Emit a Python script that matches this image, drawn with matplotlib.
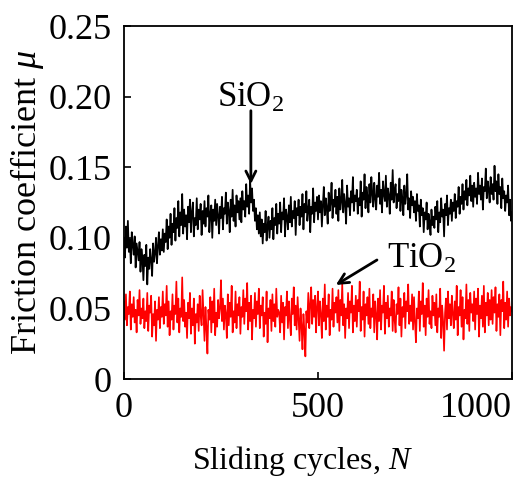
import matplotlib
matplotlib.use("Agg")
import matplotlib.pyplot as plt
import numpy as np

plt.rcParams['font.family'] = ['Liberation Serif', 'DejaVu Serif']
plt.rcParams['mathtext.fontset'] = 'custom'
plt.rcParams['mathtext.rm'] = 'Liberation Serif'
plt.rcParams['mathtext.it'] = 'Liberation Serif:italic'

# friction coefficient, in units of 0.001,
# one value every 2.5 sliding cycles from 0 to 1000
sio2_milli = [
    100, 86, 108, 93, 112, 90, 99, 82, 104, 95, 88, 101, 79, 96, 90, 84, 97, 76, 92, 85,
    70, 88, 80, 95, 67, 86, 78, 92, 84, 73, 96, 83, 89, 100, 82, 94, 104, 88, 99, 91,
    106, 90, 103, 97, 113, 92, 108, 100, 117, 95, 110, 104, 121, 98, 114, 107, 126, 101, 118, 109,
    131, 103, 120, 108, 116, 99, 122, 111, 127, 104, 118, 125, 101, 114, 109, 128, 106, 120, 113, 124,
    102, 119, 110, 126, 108, 121, 115, 130, 104, 117, 123, 100, 120, 112, 127, 109, 124, 116, 103, 122,
    114, 129, 106, 121, 117, 132, 110, 125, 119, 104, 127, 115, 134, 112, 123, 108, 130, 118, 126, 113,
    128, 111, 133, 120, 126, 115, 138, 122, 130, 117, 141, 125, 135, 119, 127, 112, 121, 106, 116, 103,
    118, 101, 113, 96, 110, 104, 119, 98, 108, 115, 100, 112, 106, 121, 99, 114, 109, 124, 103, 117,
    110, 125, 104, 118, 113, 128, 101, 120, 115, 106, 123, 111, 129, 108, 119, 114, 126, 102, 121, 116,
    127, 109, 122, 115, 131, 106, 124, 118, 133, 112, 120, 127, 104, 122, 117, 135, 111, 125, 119, 129,
    113, 130, 118, 126, 108, 123, 136, 116, 128, 121, 110, 132, 119, 125, 139, 114, 127, 122, 134, 117,
    129, 112, 135, 120, 126, 141, 118, 131, 124, 110, 137, 122, 128, 116, 133, 125, 143, 119, 130, 126,
    134, 117, 128, 123, 140, 115, 132, 127, 145, 121, 136, 129, 118, 138, 125, 143, 131, 122, 139, 128,
    120, 137, 129, 146, 124, 134, 118, 140, 131, 126, 144, 122, 135, 130, 117, 139, 127, 148, 125, 133,
    138, 121, 131, 126, 142, 119, 134, 128, 116, 137, 124, 130, 145, 120, 128, 114, 133, 123, 129, 118,
    126, 112, 131, 119, 123, 108, 127, 116, 121, 104, 118, 113, 125, 106, 117, 111, 102, 120, 109, 115,
    107, 122, 113, 126, 104, 118, 111, 128, 115, 120, 101, 124, 116, 130, 109, 121, 117, 127, 112, 125,
    119, 131, 114, 126, 122, 136, 117, 129, 124, 138, 120, 133, 127, 141, 123, 135, 130, 144, 126, 137,
    122, 139, 129, 135, 124, 146, 131, 137, 127, 142, 120, 136, 133, 149, 128, 140, 134, 125, 143, 131,
    138, 127, 151, 133, 140, 124, 145, 131, 136, 121, 142, 128, 133, 119, 130, 125, 137, 116, 127, 112,
    118,
]

tio2_milli = [
    55, 42, 60, 38, 51, 46, 62, 35, 53, 44, 58, 40, 49, 33, 56, 45, 63, 39, 50, 43,
    57, 36, 48, 41, 61, 34, 52, 47, 59, 30, 46, 38, 55, 27, 49, 42, 58, 36, 51, 44,
    62, 39, 53, 45, 66, 37, 55, 31, 48, 42, 60, 35, 52, 46, 69, 40, 57, 33, 50, 44,
    72, 41, 56, 37, 47, 29, 54, 43, 61, 32, 50, 38, 57, 25, 46, 40, 53, 34, 59, 45,
    38, 63, 44, 27, 51, 36, 18, 49, 42, 58, 33, 55, 40, 64, 31, 47, 37, 56, 43, 50,
    70, 41, 57, 35, 52, 46, 29, 60, 38, 54, 44, 66, 33, 48, 40, 62, 36, 53, 45, 58,
    32, 51, 44, 63, 39, 57, 48, 68, 35, 54, 41, 59, 28, 49, 43, 61, 37, 55, 46, 64,
    36, 52, 45, 58, 30, 47, 39, 62, 26, 50, 43, 56, 34, 60, 41, 53, 37, 64, 44, 49,
    47, 33, 59, 40, 54, 28, 51, 45, 62, 36, 55, 42, 31, 57, 46, 65, 38, 52, 35, 58,
    43, 27, 50, 38, 21, 46, 34, 16, 48, 40, 61, 36, 53, 65, 39, 56, 44, 59, 33, 51,
    62, 38, 55, 46, 29, 57, 41, 67, 35, 52, 44, 60, 31, 49, 42, 64, 37, 54, 47, 58,
    40, 63, 34, 56, 45, 68, 38, 53, 29, 50, 43, 61, 36, 55, 47, 66, 33, 52, 41, 59,
    37, 56, 48, 69, 34, 51, 42, 62, 30, 53, 45, 58, 39, 64, 36, 50, 44, 60, 33, 55,
    46, 28, 57, 41, 63, 35, 52, 47, 66, 32, 54, 43, 59, 37, 50, 45, 62, 34, 56, 42,
    33, 53, 46, 65, 38, 57, 30, 51, 44, 61, 36, 55, 48, 67, 39, 52, 41, 60, 35, 58,
    40, 26, 50, 43, 62, 34, 55, 46, 68, 37, 52, 31, 57, 44, 63, 39, 48, 36, 59, 45,
    54, 38, 60, 33, 50, 44, 64, 29, 52, 41, 20, 47, 57, 35, 62, 43, 53, 38, 59, 46,
    36, 55, 42, 66, 31, 51, 45, 63, 37, 58, 28, 49, 43, 67, 39, 56, 34, 61, 47, 53,
    41, 62, 35, 57, 46, 64, 30, 52, 43, 59, 37, 66, 33, 54, 45, 61, 38, 56, 42, 63,
    39, 58, 47, 65, 34, 53, 44, 60, 31, 56, 48, 69, 36, 54, 42, 62, 37, 57, 45, 51,
    48,
]

x_ticks = [0, 500, 1000]
y_ticks = [0, 0.05, 0.10, 0.15, 0.20, 0.25]
y_tick_labels = ['0', '0.05', '0.10', '0.15', '0.20', '0.25']

sio2 = np.array(sio2_milli) / 1000
tio2 = np.array(tio2_milli) / 1000
cycles = np.linspace(0, 1000, len(sio2))

fig = plt.figure(figsize=(5.27, 4.78), dpi=100)
ax = fig.add_axes([0.2353, 0.2071, 0.7362, 0.7385])

ax.plot(cycles, sio2, color='black', lw=1.25)
ax.plot(cycles, tio2, color='red', lw=1.2)

ax.set_xlim(0, 1000)
ax.set_ylim(0, 0.25)
ax.set_xticks(x_ticks, labels=[str(t) for t in x_ticks])
ax.set_yticks(y_ticks, labels=y_tick_labels)
ax.get_xticklabels()[-1].set_horizontalalignment('right')
ax.tick_params(direction='in', length=5, width=1.2, labelsize=26)
ax.tick_params(axis='x', pad=9)
ax.tick_params(axis='y', pad=9)
for sp in ax.spines.values():
    sp.set_linewidth(1.3)

ax.set_xlabel('Sliding cycles, $N$', fontsize=23)
ax.xaxis.set_label_coords(0.461, -0.255)
ax.xaxis.label.set_verticalalignment('baseline')
ax.set_ylabel(r'Friction coefficient $\mu$', fontsize=26, labelpad=2)

# labels and their arrows
ax.text(327, 0.1926, 'SiO$_2$', fontsize=25, ha='center', va='baseline')
ax.annotate('', xy=(327, 0.138), xytext=(327, 0.190),
            arrowprops=dict(arrowstyle='->', color='black', lw=2.0,
                            mutation_scale=18, shrinkA=0, shrinkB=0))
ax.text(766, 0.0786, 'TiO$_2$', fontsize=25, ha='center', va='baseline')
ax.annotate('', xy=(546, 0.0666), xytext=(652, 0.0843),
            arrowprops=dict(arrowstyle='->', color='black', lw=2.0,
                            mutation_scale=18, shrinkA=0, shrinkB=0))

fig.savefig('out.png', dpi=100)
